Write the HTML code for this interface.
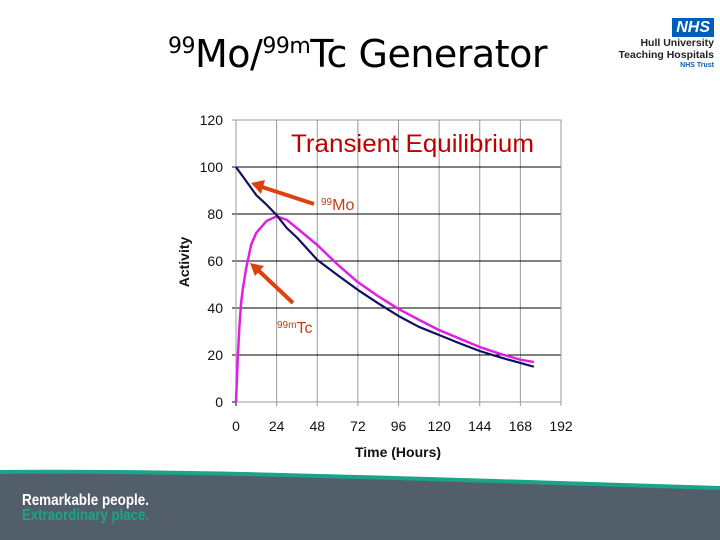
<!DOCTYPE html>
<html><head><meta charset="utf-8"><style>
body{margin:0;width:720px;height:540px;overflow:hidden;background:#fff;position:relative;font-family:"Liberation Sans",sans-serif}
#title{position:absolute;left:168px;top:32px;font-size:38px;color:#000;white-space:nowrap;font-family:"DejaVu Sans","Liberation Sans",sans-serif;letter-spacing:-0.5px}
#title sup{font-size:22px;vertical-align:0;position:relative;top:-14px}
</style></head><body>
<div id="title"><sup>99</sup>Mo/<sup>99m</sup>Tc Generator</div>
<div style="position:absolute;left:598px;top:18px;width:116px;text-align:right;font-family:'Liberation Sans',sans-serif;font-weight:bold">
 <div style="display:inline-block;background:#005eb8;color:#fff;font-style:italic;font-size:16px;padding:0 4px;line-height:19px">NHS</div>
 <div style="font-size:10.5px;line-height:12px;color:#222">Hull University</div>
 <div style="font-size:10.5px;line-height:12px;color:#222">Teaching Hospitals</div>
 <div style="font-size:7px;line-height:9px;color:#005eb8">NHS Trust</div>
</div>
<svg id="chart" width="720" height="540" style="position:absolute;left:0;top:0">
 <path d="M0,472 C200,470 450,480 720,488 L720,540 L0,540 Z" fill="#525e6a"/>
 <path d="M0,472 C200,470 450,480 720,488" fill="none" stroke="#1aa58a" stroke-width="4"/>
 <text x="22" y="505" fill="#fff" font-size="16" font-weight="bold" font-family="Liberation Sans,sans-serif" textLength="127" lengthAdjust="spacingAndGlyphs">Remarkable people.</text>
 <text x="22" y="520" fill="#1aa58a" font-size="16" font-weight="bold" font-family="Liberation Sans,sans-serif" textLength="127" lengthAdjust="spacingAndGlyphs">Extraordinary place.</text>
 <g id="grid"></g><g id="series"></g><g id="labels"></g>
</svg>
<script>
const xTicks=[0,24,48,72,96,120,144,168,192];
const yTicks=[0,20,40,60,80,100,120];
const times=[0,1,2,3,4,6,9,12,18,24,30,36,48,60,72,84,96,108,120,132,144,156,168,176];
const moValues=[100,99,98,97,96,94,91,88,84,79.5,74,70,60.5,54,47.7,42,36.6,32,28.5,25,21.7,19,16.6,15];
const tcValues=[0,18,32,42,48,57,67,72,77,79,77.5,74,66.8,58.5,51,45,39.6,35,30.6,27,23.4,20.5,18,17];
const X0=236,X1=561,Y0=402,Y1=120;
const sx=v=>X0+(v-0)/(192-0)*(X1-X0);
const sy=v=>Y0-(v-0)/(120-0)*(Y0-Y1);
const NS="http://www.w3.org/2000/svg";
const grid=document.getElementById('grid'),ser=document.getElementById('series'),lab=document.getElementById('labels');
function mk(tag,attrs,parent,txt){const e=document.createElementNS(NS,tag);for(const k in attrs)e.setAttribute(k,attrs[k]);if(txt!=null)e.textContent=txt;parent.appendChild(e);return e;}
xTicks.forEach(t=>{
 const l=mk('line',{x1:sx(t),x2:sx(t),y1:Y1,y2:Y0+4,stroke:t===0?'#000':'#999','stroke-width':1},grid);
 
 
 const tx=mk('text',{x:sx(t),y:431,'text-anchor':'middle','font-size':14,fill:'#111'},lab,t);
 
 
});
yTicks.forEach(t=>{
 const l=mk('line',{x1:X0-4,x2:X1,y1:sy(t),y2:sy(t),stroke:(t===0)?'#000':(t%20===0&&t!==120?'#000':'#999'),'stroke-width':1},grid);
 
 
 const tx=mk('text',{x:223,y:sy(t)+5,'text-anchor':'end','font-size':14,fill:'#111'},lab,t);
 
 
});
const fr=mk('rect',{x:X0,y:Y1,width:X1-X0,height:Y0-Y1,fill:'none',stroke:'#999'},grid);


function pts(vals){return times.map((t,i)=>sx(t)+','+sy(vals[i])).join(' ');}
const tc=mk('polyline',{points:pts(tcValues),fill:'none',stroke:'#e020e0','stroke-width':2.5,'stroke-linejoin':'round'},ser);


const mo=mk('polyline',{points:pts(moValues),fill:'none',stroke:'#101060','stroke-width':2.2,'stroke-linejoin':'round'},ser);


const tt=mk('text',{x:291,y:152,'font-size':25,fill:'#c00000','font-family':'Liberation Sans,sans-serif','textLength':243,'lengthAdjust':'spacingAndGlyphs'},lab,'Transient Equilibrium');


const a1=mk('g',{},lab);


mk('line',{x1:314,y1:204,x2:262,y2:187,stroke:'#e04010','stroke-width':4},a1);
mk('polygon',{points:'251,183 265,180 261,194',fill:'#e04010'},a1);
const a2=mk('g',{},lab);


mk('line',{x1:293,y1:303,x2:258,y2:270,stroke:'#e04010','stroke-width':4},a2);
mk('polygon',{points:'250,263 264,266 255,276',fill:'#e04010'},a2);
const m=mk('text',{x:321,y:210,'font-size':16,fill:'#c04010'},lab);


mk('tspan',{'font-size':10,dy:-5},m,'99');mk('tspan',{dy:5},m,'Mo');
const c=mk('text',{x:277,y:333,'font-size':16,fill:'#c04010'},lab);


mk('tspan',{'font-size':10,dy:-5},c,'99m');mk('tspan',{dy:5},c,'Tc');
const xt=mk('text',{x:398,y:457,'text-anchor':'middle','font-size':14,'font-weight':'bold',fill:'#111'},lab,'Time (Hours)');


const yt=mk('text',{x:0,y:0,transform:'translate(189,262) rotate(-90)','text-anchor':'middle','font-size':14,'font-weight':'bold',fill:'#111'},lab,'Activity');


</script>
</body></html>
